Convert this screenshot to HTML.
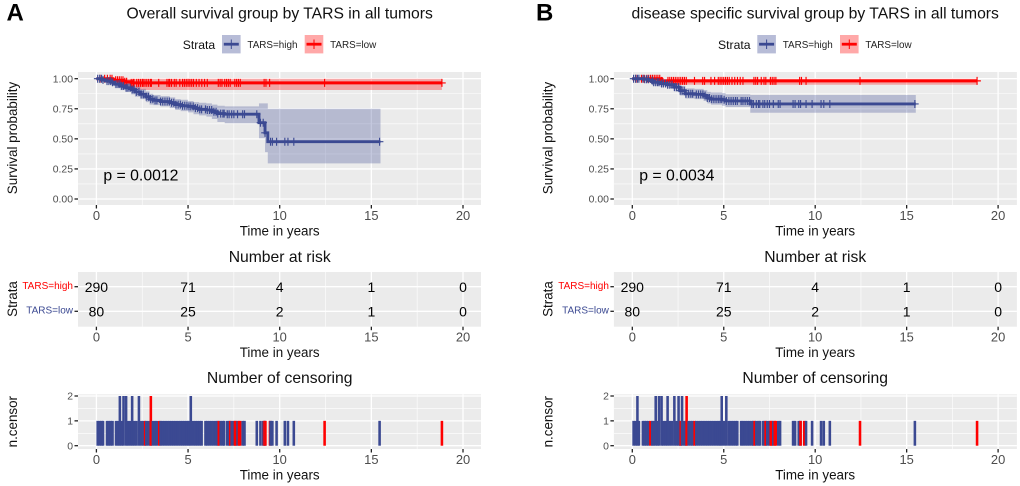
<!DOCTYPE html>
<html lang="en">
<head>
<meta charset="utf-8">
<title>Survival curves by TARS</title>
<style>
html,body{margin:0;padding:0;background:#fff;width:1020px;height:486px;overflow:hidden}
svg{display:block;filter:blur(0.35px)}
text{font-family:"Liberation Sans",sans-serif}
</style>
</head>
<body>
<svg id="figure" xmlns="http://www.w3.org/2000/svg" width="1020" height="486" viewBox="0 0 1020 486"></svg>
<script>
/* ---------- shared axis data ---------- */
const xTicks = [0, 5, 10, 15, 20];
const xMinor = [2.5, 7.5, 12.5, 17.5];
const survTicks = [1, 0.75, 0.5, 0.25, 0];
const survTickLabels = ['1.00', '0.75', '0.50', '0.25', '0.00'];
const survMinor = [0.875, 0.625, 0.375, 0.125];
const censorTicks = [0, 1, 2];
const censorMinor = [0.5, 1.5];
const strataLabels = ['TARS=high', 'TARS=low'];
const legendLabels = ['TARS=high', 'TARS=low'];
const riskHigh = [290, 71, 4, 1, 0];
const riskLow = [80, 25, 2, 1, 0];

/* ---------- panel A data ---------- */
const aHighTime = [0,.3,.5,.8,1,1.3,1.6,1.9,2.1,2.4,2.7,2.9,3.1,3.5,4,4.3,4.6,5,5.3,5.6,6,6.3,6.6,7,8.87,9.2,9.35,15.5];
const aHighSurv = [1,.99,.98,.97,.955,.94,.925,.91,.89,.87,.85,.83,.82,.81,.80,.785,.775,.77,.755,.745,.74,.725,.71,.705,.634,.55,.476,.476];
const aHighUpper = [1,1,1,.995,.985,.975,.965,.95,.935,.915,.895,.875,.865,.855,.845,.83,.825,.815,.805,.80,.795,.785,.775,.77,.795,.795,.75,.75];
const aHighLower = [1,.98,.965,.945,.925,.905,.89,.87,.85,.83,.805,.785,.78,.77,.755,.74,.73,.72,.705,.695,.685,.665,.64,.63,.505,.39,.296,.296];
const aLowTime = [0,.9,1.5,1.9,18.85];
const aLowSurv = [1,.987,.975,.965,.965];
const aLowUpper = [1,1,1,1,1];
const aLowLower = [1,.965,.94,.906,.906];
const aHighCensorTime = [.07,.18,.28,.36,.58,.68,.78,.88,1.07,1.18,1.28,1.38,1.48,1.62,1.72,1.84,1.95,2.06,2.18,2.32,2.44,2.56,2.72,2.84,2.96,3.08,3.2,3.3,3.5,3.62,3.74,3.86,3.98,4.1,4.22,4.34,4.46,4.58,4.7,4.82,4.94,5.05,5.15,5.28,5.4,5.52,5.64,5.74,5.95,6.05,6.17,6.29,6.41,6.53,6.62,6.78,6.9,6.97,7.14,7.24,7.38,7.5,7.7,7.98,8.08,8.75,8.95,9.1,9.2,9.5,9.6,9.83,10.28,10.45,10.77,15.45];
const aHighCensorCount = [1,1,1,1,1,1,1,1,1,1,2,1,2,2,1,1,2,1,1,2,1,1,1,1,1,1,1,1,1,1,1,1,1,1,1,1,1,1,1,1,1,1,2,1,1,1,1,1,1,1,1,1,1,1,1,1,1,1,1,1,1,1,1,1,1,1,1,1,1,1,1,1,1,1,1,1];
const aLowCensorTime = [2.66,2.97,3.43,6.68,7.3,7.56,7.62,7.78,7.84,9.15,9.22,9.47,12.45,18.85];
const aLowCensorCount = [1,2,1,1,1,1,1,1,1,1,1,1,1,1];
const aLowTicks = [.2,.45,.6,.75,.85,1.05,1.15,1.25,1.35,1.45,1.55,1.65,1.9,2.0,2.05,2.2,2.3,2.4,2.5,2.55,2.65,2.75,2.85,2.95,3.0,3.4,3.85,3.95,4.0,4.1,4.25,4.35,4.55,4.7,4.8,4.9,5.0,5.1,5.2,5.3,5.45,5.6,5.75,5.9,6.05,6.65,6.75,6.85,7.0,7.1,7.2,7.3,7.55,7.65,7.75,7.85,9.15,9.25,9.45,12.45,18.85];

/* ---------- panel B data ---------- */
const bHighTime = [0,.6,.9,1.1,1.5,1.9,2.3,2.6,2.9,3.4,3.9,4.1,4.3,4.9,5.1,6.45,15.5];
const bHighSurv = [1,.995,.985,.97,.96,.95,.93,.90,.875,.87,.86,.84,.83,.825,.815,.79,.79];
const bHighUpper = [1,1,1,.995,.985,.98,.965,.94,.92,.915,.905,.89,.885,.88,.87,.865,.865];
const bHighLower = [1,.985,.97,.945,.935,.92,.895,.86,.835,.83,.815,.795,.785,.775,.765,.717,.717];
const bLowTime = [0,1.6,18.85];
const bLowSurv = [1,.982,.982];
const bLowUpper = [1,1,1];
const bLowLower = [1,.95,.95];
const bHighCensorTime = [.07,.18,.28,.36,.58,.68,.78,.88,1.09,1.17,1.28,1.38,1.46,1.6,1.7,1.82,1.93,2.05,2.17,2.3,2.42,2.53,2.62,2.72,2.84,2.93,3.08,3.2,3.3,3.5,3.62,3.74,3.86,3.98,4.1,4.22,4.34,4.46,4.58,4.7,4.8,4.89,5.02,5.14,5.28,5.4,5.52,5.64,5.74,5.95,6.05,6.17,6.29,6.41,6.53,6.62,6.78,6.9,6.97,7.14,7.24,7.38,7.5,7.71,7.98,8.08,8.79,8.9,9.1,9.2,9.5,9.83,10.32,10.47,10.8,15.45];
const bHighCensorCount = [1,1,2,1,1,1,1,1,1,1,2,1,2,2,1,1,2,1,1,2,1,2,1,2,1,1,1,1,1,1,1,1,1,1,1,1,1,1,1,1,1,2,1,2,1,1,1,1,1,1,1,1,1,1,1,1,1,1,1,1,1,1,1,1,1,1,1,1,1,1,1,1,1,1,1,1];
const bLowCensorTime = [.99,2.65,2.97,3.41,6.69,7.29,7.57,7.63,7.79,7.85,9.2,9.4,12.45,18.85];
const bLowCensorCount = [1,1,2,1,1,1,1,1,1,1,1,1,1,1];
const bLowTicks = [.2,.5,.65,.8,.9,1.0,1.1,1.2,1.3,1.4,1.5,1.6,1.95,2.05,2.15,2.25,2.35,2.45,2.55,2.65,2.75,2.85,2.95,3.4,3.85,3.95,4.3,4.5,4.7,4.8,4.9,5.0,5.1,5.2,5.3,5.45,5.6,5.75,5.9,6.05,6.65,6.75,6.85,7.05,7.2,7.3,7.55,7.65,7.75,7.85,9.15,9.25,9.5,12.45,18.85];

/* ---------- drawing ---------- */
const NS = 'http://www.w3.org/2000/svg';
const root = document.getElementById('figure');
const BLUE = '#3b4992';
const RED = '#ff0000';

function make(tag, attrs, parent) {
  const node = document.createElementNS(NS, tag);
  for (const k in attrs) node.setAttribute(k, attrs[k]);
  parent.appendChild(node);
  return node;
}
function label(str, attrs, parent) {
  const node = make('text', attrs, parent);
  node.textContent = str;
  return node;
}
function stepPath(times, vals, sx, sy) {
  let d = 'M' + sx(times[0]) + ' ' + sy(vals[0]);
  for (let i = 1; i < times.length; i++) {
    d += 'H' + sx(times[i]) + 'V' + sy(vals[i]);
  }
  return d;
}
function ribbonPath(times, up, lo, sx, sy) {
  const n = times.length - 1;
  let d = 'M' + sx(times[0]) + ' ' + sy(up[0]);
  for (let i = 1; i <= n; i++) {
    d += 'H' + sx(times[i]) + 'V' + sy(up[i]);
  }
  d += 'V' + sy(lo[n]);
  for (let i = n; i > 0; i--) {
    d += 'V' + sy(lo[i - 1]) + 'H' + sx(times[i - 1]);
  }
  return d + 'Z';
}
function survAt(times, vals, t) {
  let v = vals[0];
  for (let i = 0; i < times.length; i++) {
    if (times[i] <= t) v = vals[i];
  }
  return v;
}

function vGrid(g, sx, top, bottom) {
  xMinor.forEach(function (v) {
    make('line', {x1: sx(v), x2: sx(v), y1: top, y2: bottom, stroke: '#fff', 'stroke-width': 0.6}, g);
  });
  xTicks.forEach(function (v) {
    make('line', {x1: sx(v), x2: sx(v), y1: top, y2: bottom, stroke: '#fff', 'stroke-width': 1.3}, g);
  });
}
function hGrid(g, left, right, majors, minors, sy) {
  minors.forEach(function (v) {
    make('line', {x1: left, x2: right, y1: sy(v), y2: sy(v), stroke: '#fff', 'stroke-width': 0.6}, g);
  });
  majors.forEach(function (v) {
    make('line', {x1: left, x2: right, y1: sy(v), y2: sy(v), stroke: '#fff', 'stroke-width': 1.3}, g);
  });
}
function xAxis(g, sx, bottom, cx) {
  xTicks.forEach(function (v) {
    make('line', {x1: sx(v), x2: sx(v), y1: bottom, y2: bottom + 3.5, stroke: '#222', 'stroke-width': 1.3}, g);
    const t = label(String(v), {x: sx(v), y: bottom + 15, 'text-anchor': 'middle', 'font-size': 12.9, fill: '#4d4d4d'}, g);
    
    
  });
  const title = label('Time in years', {x: cx, y: bottom + 30.5, 'text-anchor': 'middle', 'font-size': 13.4, fill: '#111'}, g);
  
  
}
function yTitle(g, str, x, y) {
  const t = label(str, {x: x, y: y, 'text-anchor': 'middle', 'font-size': 13.4, fill: '#111', transform: 'rotate(-90 ' + x + ' ' + y + ')'}, g);
  
  
}
function ticksOn(g, times, curveT, curveS, color, sx, sy) {
  times.forEach(function (t) {
    const px = sx(t);
    const py = sy(survAt(curveT, curveS, t));
    make('path', {d: 'M' + (px - 3.8) + ' ' + py + 'H' + (px + 3.8) + 'M' + px + ' ' + (py - 4) + 'V' + (py + 4), stroke: color, 'stroke-width': 1.15, fill: 'none'}, g);
  });
}

function drawPanel(p) {
  const g = make('g', {}, root);
  
  

  const sx = function (t) { return p.x0 + t * p.xs; };
  const cx = sx(10);
  const left = p.x0 - 18.4;
  const right = p.x0 + 384.6;

  const letter = label(p.letter, {x: p.letterX, y: 20.5, 'font-size': 24, 'font-weight': 'bold', fill: '#000'}, g);
  
  

  const title = label(p.title, {x: cx, y: 18.5, 'text-anchor': 'middle', 'font-size': 15.7, fill: '#111'}, g);
  
  

  /* legend */
  const legend = make('g', {}, g);
  
  
  const strataText = label('Strata', {x: p.legendX, y: 49, 'font-size': 12.2, fill: '#111'}, legend);
  
  
  [[BLUE, 39.3], [RED, 122]].forEach(function (k, i) {
    const kx = p.legendX + k[1];
    const entry = make('g', {}, legend);
    
    
    make('rect', {x: kx, y: 35, width: 18.6, height: 18.4, fill: k[0], 'fill-opacity': i === 0 ? 0.37 : 0.34}, entry);
    make('line', {x1: kx + 1.8, x2: kx + 16.8, y1: 44.2, y2: 44.2, stroke: k[0], 'stroke-width': 2.8}, entry);
    make('line', {x1: kx + 9.3, x2: kx + 9.3, y1: 39.5, y2: 49, stroke: k[0], 'stroke-width': 1}, entry);
    label(legendLabels[i], {x: kx + 25.4, y: 48, 'font-size': 9.9, fill: '#222'}, entry);
  });

  /* survival plot */
  const top1 = 72, bottom1 = 205;
  const sy = function (v) { return 199 - v * 120.3; };
  const km = make('g', {}, g);
  
  
  const bg1 = make('rect', {x: left, y: top1, width: right - left, height: bottom1 - top1, fill: '#ebebeb'}, km);
  
  
  hGrid(km, left, right, survTicks, survMinor, sy);
  vGrid(km, sx, top1, bottom1);

  const lowBand = make('path', {d: ribbonPath(p.lowT, p.lowU, p.lowL, sx, sy), fill: RED, 'fill-opacity': 0.3}, km);
  
  
  const highBand = make('path', {d: ribbonPath(p.highT, p.highU, p.highL, sx, sy), fill: BLUE, 'fill-opacity': 0.3}, km);
  
  

  ticksOn(km, p.lowTicks, p.lowT, p.lowS, RED, sx, sy);
  const lowLine = make('path', {d: stepPath(p.lowT, p.lowS, sx, sy), fill: 'none', stroke: RED, 'stroke-width': 3}, km);
  
  
  ticksOn(km, p.hTimes, p.highT, p.highS, BLUE, sx, sy);
  const highLine = make('path', {d: stepPath(p.highT, p.highS, sx, sy), fill: 'none', stroke: BLUE, 'stroke-width': 2.9}, km);
  
  

  survTicks.forEach(function (v, i) {
    make('line', {x1: left - 3.5, x2: left, y1: sy(v), y2: sy(v), stroke: '#222', 'stroke-width': 1.3}, km);
    const t = label(survTickLabels[i], {x: left - 5, y: sy(v) + 3.6, 'text-anchor': 'end', 'font-size': 10.4, fill: '#4d4d4d'}, km);
    
    
  });
  xAxis(km, sx, bottom1, cx);
  yTitle(km, 'Survival probability', p.yTitleX, 138);
  const pv = label(p.pValue, {x: sx(0.38), y: 180.5, 'font-size': 15.8, fill: '#000'}, km);
  
  

  /* number at risk */
  const top2 = 272, bottom2 = 326.7;
  const rowY = [286.7, 311.3];
  const risk = make('g', {}, g);
  
  
  const riskTitle = label('Number at risk', {x: cx, y: 262, 'text-anchor': 'middle', 'font-size': 15.7, fill: '#111'}, risk);
  
  
  const bg2 = make('rect', {x: left, y: top2, width: right - left, height: bottom2 - top2, fill: '#ebebeb'}, risk);
  
  
  hGrid(risk, left, right, rowY, [], function (v) { return v; });
  vGrid(risk, sx, top2, bottom2);
  [riskHigh, riskLow].forEach(function (row, r) {
    make('line', {x1: left - 3.5, x2: left, y1: rowY[r], y2: rowY[r], stroke: '#222', 'stroke-width': 1.3}, risk);
    const s = label(strataLabels[r], {x: left - 5, y: rowY[r] + 2.4, 'text-anchor': 'end', 'font-size': 10, fill: r === 0 ? RED : BLUE}, risk);
    
    
    row.forEach(function (n, i) {
      const c = label(String(n), {x: sx(xTicks[i]), y: rowY[r] + 5.3, 'text-anchor': 'middle', 'font-size': 14, fill: '#000'}, risk);
      
      
    });
  });
  xAxis(risk, sx, bottom2, cx);
  yTitle(risk, 'Strata', p.yTitleX, 299);

  /* number of censoring */
  const top3 = 394.3, bottom3 = 449;
  const sc = function (v) { return 445.7 - v * 24.85; };
  const cens = make('g', {}, g);
  
  
  const censTitle = label('Number of censoring', {x: cx, y: 383, 'text-anchor': 'middle', 'font-size': 15.7, fill: '#111'}, cens);
  
  
  const bg3 = make('rect', {x: left, y: top3, width: right - left, height: bottom3 - top3, fill: '#ebebeb'}, cens);
  
  
  hGrid(cens, left, right, censorTicks, censorMinor, sc);
  vGrid(cens, sx, top3, bottom3);

  const bars = [];
  p.hTimes.forEach(function (t, i) { bars.push([t, p.hCounts[i], BLUE]); });
  p.lTimes.forEach(function (t, i) { bars.push([t, p.lCounts[i], RED]); });
  bars.sort(function (a, b) { return a[0] - b[0]; });
  bars.forEach(function (b) {
    const bar = make('rect', {x: sx(b[0] - 0.07), y: sc(b[1]), width: 0.14 * p.xs, height: sc(0) - sc(b[1]), fill: b[2]}, cens);
    
    
  });

  censorTicks.forEach(function (v) {
    make('line', {x1: left - 3.5, x2: left, y1: sc(v), y2: sc(v), stroke: '#222', 'stroke-width': 1.3}, cens);
    const t = label(String(v), {x: left - 5, y: sc(v) + 3.6, 'text-anchor': 'end', 'font-size': 10.4, fill: '#4d4d4d'}, cens);
    
    
  });
  xAxis(cens, sx, bottom3, cx);
  yTitle(cens, 'n.censor', p.yTitleX, 421.7);
}

drawPanel({
  id: 'overall-survival', letter: 'A', letterX: 6.5,
  title: 'Overall survival group by TARS in all tumors', pValue: 'p = 0.0012',
  x0: 96.4, xs: 18.33, legendX: 182.7, yTitleX: 17,
  highT: aHighTime, highS: aHighSurv, highU: aHighUpper, highL: aHighLower,
  lowT: aLowTime, lowS: aLowSurv, lowU: aLowUpper, lowL: aLowLower,
  hTimes: aHighCensorTime, hCounts: aHighCensorCount,
  lTimes: aLowCensorTime, lCounts: aLowCensorCount, lowTicks: aLowTicks
});
drawPanel({
  id: 'disease-specific-survival', letter: 'B', letterX: 536,
  title: 'disease specific survival group by TARS in all tumors', pValue: 'p = 0.0034',
  x0: 632.3, xs: 18.29, legendX: 718, yTitleX: 552.5,
  highT: bHighTime, highS: bHighSurv, highU: bHighUpper, highL: bHighLower,
  lowT: bLowTime, lowS: bLowSurv, lowU: bLowUpper, lowL: bLowLower,
  hTimes: bHighCensorTime, hCounts: bHighCensorCount,
  lTimes: bLowCensorTime, lCounts: bLowCensorCount, lowTicks: bLowTicks
});
</script>
</body>
</html>
